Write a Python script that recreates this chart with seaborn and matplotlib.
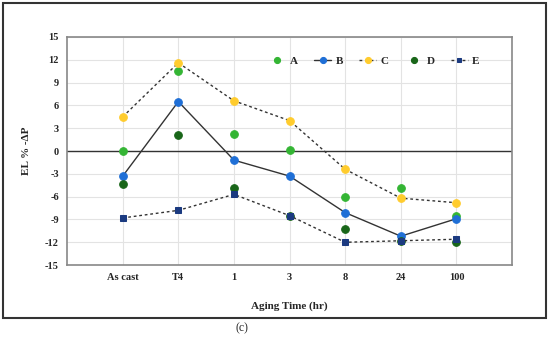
import pandas as pd
import matplotlib.pyplot as plt
import seaborn as sns
from matplotlib.patches import Rectangle

# data
aging_time = ["As cast", "T4", "1", "3", "8", "24", "100"]
el_a = [0.0, 10.5, 2.2, 0.1, -6.1, -4.9, -8.5]
el_b = [-3.3, 6.5, -1.2, -3.3, -8.1, -11.2, -8.9]
el_c = [4.5, 11.6, 6.6, 4.0, -2.4, -6.2, -6.8]
el_d = [-4.3, 2.1, -4.9, -8.5, -10.3, -11.8, -12.0]
el_e = [-8.8, -7.8, -5.7, -8.5, -12.0, -11.8, -11.6]
y_ticks = [15, 12, 9, 6, 3, 0, -3, -6, -9, -12, -15]

sns.set_style("whitegrid")
plt.rcParams["font.family"] = ["Liberation Serif", "DejaVu Serif"]
plt.rcParams["axes.unicode_minus"] = False

pos = list(range(len(aging_time)))
df = pd.DataFrame({"pos": pos, "A": el_a, "B": el_b, "C": el_c, "D": el_d, "E": el_e})

fig = plt.figure(figsize=(5.5, 3.39), dpi=100)
ax = fig.add_axes([0.122, 0.218, 0.809, 0.673])

# series styles: (colour, line style, marker, marker size)
styles = {
    "A": ("#34b534", "none", "o", 5.5),
    "B": ("#1f6fd6", "-", "o", 5.5),
    "C": ("#ffcc2e", (0, (2, 2)), "o", 5.5),
    "D": ("#196619", "none", "o", 5.5),
    "E": ("#1b3a80", (0, (2, 2)), "s", 4.2),
}

for name, (col, ls, mk, ms) in styles.items():
    sns.lineplot(data=df, x="pos", y=name, ax=ax, color="#333333",
                 linestyle=ls, linewidth=1.0, marker=mk, markersize=ms,
                 markerfacecolor=col, markeredgecolor=col, label=name)

ax.axhline(0, color="#333333", linewidth=1.0, zorder=1)

ax.set_xlim(-1, len(aging_time))
ax.set_ylim(-15, 15)
ax.set_xticks(pos)
ax.set_xticklabels(aging_time)
ax.set_yticks(y_ticks)
ax.grid(True, color="#e3e3e3", linewidth=0.8)
ax.tick_params(length=0, labelsize=7.5, pad=6)
for lbl in ax.get_xticklabels() + ax.get_yticklabels():
    lbl.set_fontweight("bold")
for s in ax.spines.values():
    s.set_color("#888888")
    s.set_linewidth(1.2)

ax.set_xlabel("Aging Time (hr)", fontsize=8, fontweight="bold", labelpad=14)
ax.set_ylabel("EL % -ΔP", fontsize=8, fontweight="bold", labelpad=10)

ax.legend(loc="center", bbox_to_anchor=(0.69, 0.895), ncol=5, frameon=False,
          handlelength=1.5, columnspacing=1.5, handletextpad=0.4,
          markerscale=0.8, prop={"weight": "bold", "size": 8})

# outer frame around the whole panel
fig.patches.append(Rectangle((3 / 550, 1 - 318 / 339), 543 / 550, 315 / 339,
                             transform=fig.transFigure, fill=False,
                             edgecolor="#333333", linewidth=1.5))
fig.text(0.44, 0.022, "(c)", fontsize=8.5, ha="center")

fig.savefig("out.png", dpi=100)
